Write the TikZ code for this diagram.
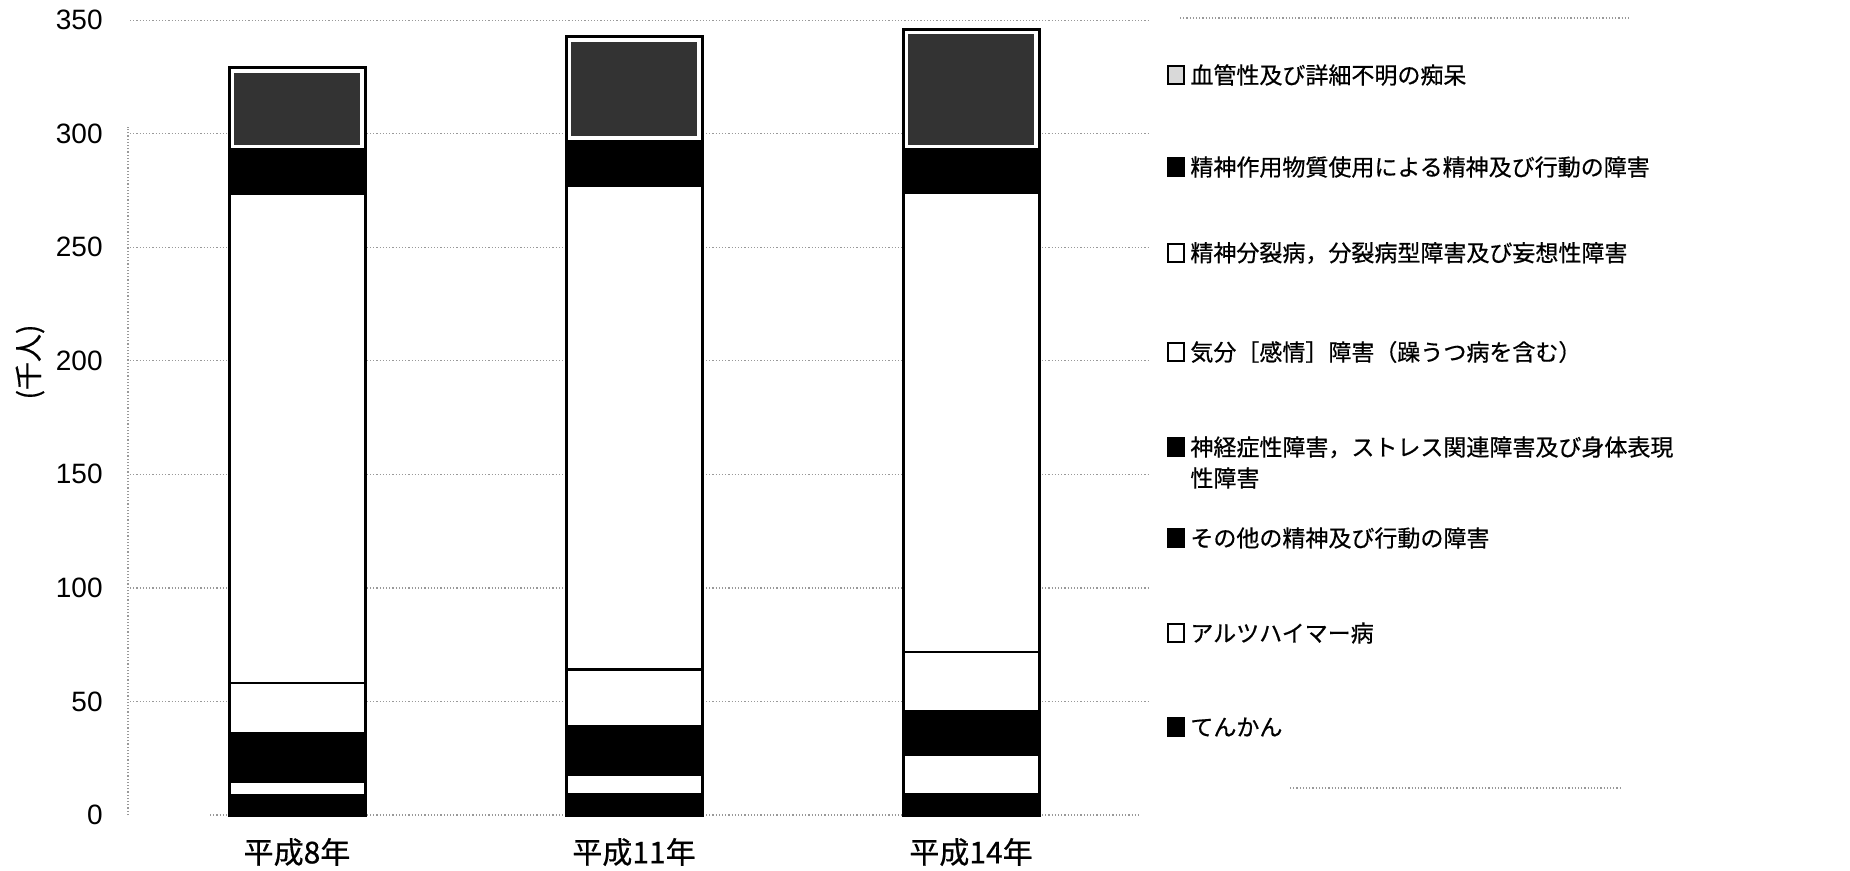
\documentclass[tikz,border=0pt]{standalone}
\usepackage{fontspec}
\setmainfont{Liberation Sans}
\newfontfamily\jp[FakeBold=0.6]{Noto Sans CJK JP}
\def\DY#1{(815-2.271*(#1))}
\newcommand\seg[4]{\draw[#1] (#2,{\DY{#3}}) rectangle ({#2+136},{\DY{#4}});}
\newcommand\dotseg[3]{%
  \draw[wht] (#1,{\DY{#2}}) rectangle ({#1+136},{\DY{#3}});
  \fill[black!80] ({#1+5},{\DY{#2}-5}) rectangle ({#1+131},{\DY{#3}+5});}
\begin{document}
\begin{tikzpicture}[x=0.5pt,y=-0.5pt,
  tick/.style={font=\fontsize{14}{16}\selectfont, anchor=east, inner sep=0},
  xlab/.style={font=\jp\fontsize{15}{17}\selectfont, inner sep=0},
  legtext/.style={font=\jp\fontsize{11.5}{15.5}\selectfont, anchor=west, inner sep=0, align=left},
  gridline/.style={black!40, densely dotted, line width=0.6pt},
  blk/.style={fill=black, draw=black, line width=1.2pt},
  wht/.style={fill=white, draw=black, line width=1.2pt},
  barframe/.style={draw=black, line width=1.5pt},
  mblk/.style={fill=black, draw=black, line width=0.8pt},
  mwht/.style={fill=white, draw=black, line width=1pt},
  mdot/.style={fill=black!15, draw=black, line width=1pt},
]
\useasboundingbox (0,0) rectangle (1850,871);
% grid
\foreach \v in {50,100,...,350} \draw[gridline] (130,{\DY{\v}}) -- (1150,{\DY{\v}});
\draw[gridline] (210,{\DY{0}}) -- (1140,{\DY{0}});
\draw[gridline] (128,{\DY{0}}) -- (128,{\DY{303}});
\draw[gridline] (1180,18) -- (1630,18);
\draw[gridline] (1290,788) -- (1620,788);
% tick labels
\foreach \v in {0,50,...,350} \node[tick] (t\v) at (103,{\DY{\v}}) {\v};
\node[font=\jp\fontsize{14}{16}\selectfont, rotate=90, inner sep=0] (ylab) at (30,362) {(千人)};
% bar 1
\seg{blk}{229}{0}{8.8}
\seg{wht}{229}{8.8}{14.5}
\seg{blk}{229}{14.5}{25}
\seg{blk}{229}{25}{36}
\seg{wht}{229}{36}{58}
\seg{wht}{229}{58}{273.5}
\seg{blk}{229}{273.5}{293}
\dotseg{229}{293}{329}
\draw[barframe] (229,{\DY{0}}) rectangle (365,{\DY{329}});
% bar 2
\seg{blk}{566}{0}{9.2}
\seg{wht}{566}{9.2}{17.6}
\seg{blk}{566}{17.6}{28}
\seg{blk}{566}{28}{39}
\seg{wht}{566}{39}{64}
\seg{wht}{566}{64}{277}
\seg{blk}{566}{277}{296.8}
\dotseg{566}{296.8}{342.6}
\draw[barframe] (566,{\DY{0}}) rectangle (702,{\DY{342.6}});
% bar 3
\seg{blk}{903}{0}{9}
\seg{wht}{903}{9}{26.4}
\seg{blk}{903}{26.4}{36}
\seg{blk}{903}{36}{45.8}
\seg{wht}{903}{45.8}{71.8}
\seg{wht}{903}{71.8}{274}
\seg{blk}{903}{274}{293}
\dotseg{903}{293}{346}
\draw[barframe] (903,{\DY{0}}) rectangle (1039,{\DY{346}});
% x labels
\node[xlab] (x1) at (297,852) {平成8年};
\node[xlab] (x2) at (634,852) {平成11年};
\node[xlab] (x3) at (971,852) {平成14年};
% legend
\draw[mdot] (1168,66) rectangle (1184,84);
\node[legtext] (l1) at (1190,75) {血管性及び詳細不明の痴呆};
\draw[mblk] (1168,158) rectangle (1184,176);
\node[legtext] (l2) at (1190,167) {精神作用物質使用による精神及び行動の障害};
\draw[mwht] (1168,244) rectangle (1184,262);
\node[legtext] (l3) at (1190,253) {精神分裂病，分裂病型障害及び妄想性障害};
\draw[mwht] (1168,343) rectangle (1184,361);
\node[legtext] (l4) at (1190,352) {気分［感情］障害（躁うつ病を含む）};
\draw[mblk] (1168,438) rectangle (1184,456);
\node[legtext] (l5) at (1190,462.5) {神経症性障害，ストレス関連障害及び身体表現\\性障害};
\draw[mblk] (1168,529) rectangle (1184,547);
\node[legtext] (l6) at (1190,538) {その他の精神及び行動の障害};
\draw[mwht] (1168,624) rectangle (1184,642);
\node[legtext] (l7) at (1190,633) {アルツハイマー病};
\draw[mblk] (1168,718) rectangle (1184,736);
\node[legtext] (l8) at (1190,727) {てんかん};
\end{tikzpicture}
\end{document}
